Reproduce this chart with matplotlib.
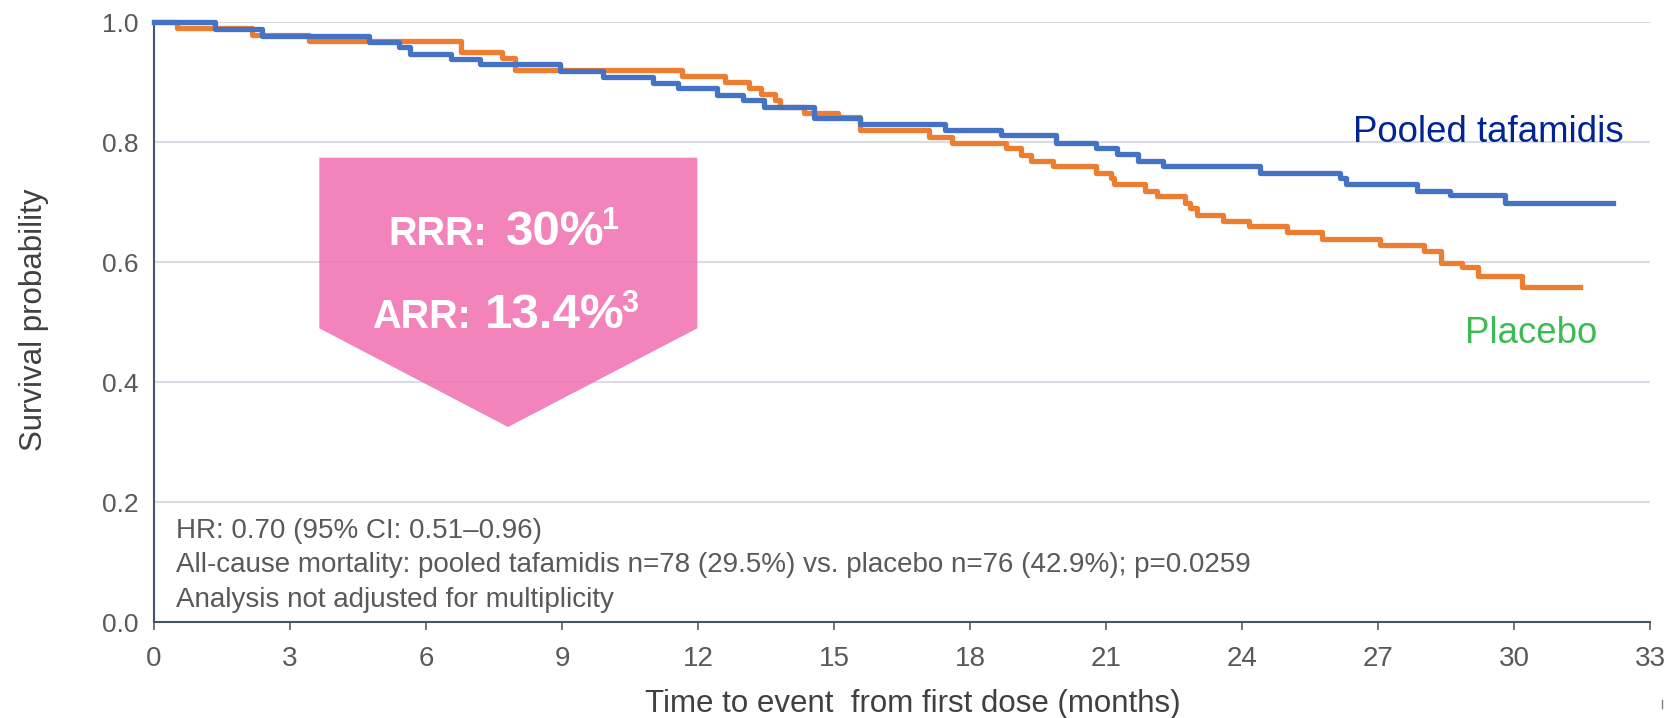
import matplotlib
matplotlib.use("Agg")
import matplotlib.pyplot as plt
from matplotlib.patches import Polygon

plt.rcParams['font.family'] = ['Liberation Sans', 'DejaVu Sans']

# Kaplan-Meier steps (months, survival)
taf_t = [0, 1.34, 2.38, 4.75, 5.40, 5.65, 6.55, 7.19, 8.95, 9.90, 11.0, 11.56,
         12.43, 13.0, 13.46, 14.55, 15.58, 17.44, 18.68, 19.89, 20.77, 21.25,
         21.70, 22.26, 24.40, 26.17, 26.30, 27.86, 28.59, 29.80, 32.19]
taf_s = [1.0, 0.989, 0.977, 0.968, 0.959, 0.948, 0.939, 0.93, 0.919, 0.909,
         0.899, 0.89, 0.879, 0.87, 0.859, 0.84, 0.83, 0.82, 0.812, 0.799, 0.79,
         0.78, 0.769, 0.761, 0.748, 0.74, 0.73, 0.719, 0.712, 0.699, 0.699]
pbo_t = [0, 0.51, 2.16, 3.43, 6.77, 7.67, 7.96, 11.65, 12.6, 13.13, 13.39,
         13.69, 13.8, 14.33, 15.08, 15.57, 17.1, 17.6, 18.8, 19.13, 19.34,
         19.82, 20.77, 21.1, 21.17, 21.87, 22.13, 22.75, 22.85, 23.0, 23.58,
         24.15, 25.0, 25.76, 27.04, 28.02, 28.4, 28.85, 29.2, 30.17, 31.45]
pbo_s = [1.0, 0.99, 0.979, 0.969, 0.95, 0.94, 0.92, 0.91, 0.90, 0.89, 0.88,
         0.87, 0.859, 0.849, 0.842, 0.82, 0.809, 0.798, 0.79, 0.779, 0.769,
         0.761, 0.749, 0.74, 0.73, 0.719, 0.71, 0.699, 0.69, 0.679, 0.669,
         0.66, 0.651, 0.639, 0.629, 0.618, 0.599, 0.592, 0.578, 0.559, 0.559]

x_ticks = [0, 3, 6, 9, 12, 15, 18, 21, 24, 27, 30, 33]
y_ticks = [0.0, 0.2, 0.4, 0.6, 0.8, 1.0]

notes = ["HR: 0.70 (95% CI: 0.51\u20130.96)",
         "All-cause mortality: pooled tafamidis n=78 (29.5%) vs. placebo n=76 (42.9%); p=0.0259",
         "Analysis not adjusted for multiplicity"]

W, H = 1671, 718
def fx(x):
    return x / W
def fy(y):
    return 1 - y / H

fig = plt.figure(figsize=(W / 100, H / 100), dpi=100)
ax = fig.add_axes([fx(154), fy(622.3), 1496 / W, 600 / H])

ax.step(pbo_t, pbo_s, where='post', color='#ed7d31', lw=3.8, clip_on=False, zorder=3)
ax.step(taf_t, taf_s, where='post', color='#4472c4', lw=3.8, clip_on=False, zorder=4)

ax.set_xlim(0, 33)
ax.set_ylim(0, 1.0)
ax.set_xticks(x_ticks)
ax.set_yticks(y_ticks)
ax.set_yticklabels([f"{v:.1f}" for v in y_ticks])
ax.yaxis.grid(True, color='#d9dce6', lw=1.5)
ax.set_axisbelow(True)
for s in ['top', 'right']:
    ax.spines[s].set_visible(False)
for s in ['left', 'bottom']:
    ax.spines[s].set_color('#44546a')
    ax.spines[s].set_linewidth(1.5)
ax.tick_params(axis='x', length=6, width=1.1, color='#44546a', labelsize=20,
               labelcolor='#595959', pad=11)
ax.tick_params(axis='y', length=0, labelsize=19, labelcolor='#595959', pad=11)

fig.text(fx(913), fy(712), "Time to event  from first dose (months)", fontsize=22.5,
         color='#404040', ha='center', va='baseline')
fig.text(fx(34), fy(320), "Survival probability", fontsize=22.5, color='#404040',
         ha='center', va='center', rotation=90)

fig.text(fx(1353), fy(141.7), "Pooled tafamidis", fontsize=26.4, color='#002395',
         ha='left', va='baseline')
fig.text(fx(1465), fy(343.3), "Placebo", fontsize=26.4, color='#3cba54',
         ha='left', va='baseline')

# pink chevron
chev = [(319.3, 157.7), (697.3, 157.7), (697.3, 328.3), (508, 427), (319.3, 328.3)]
fig.patches.append(Polygon([(fx(a), fy(b)) for a, b in chev], closed=True,
                           transform=fig.transFigure, facecolor='#f06eb0',
                           alpha=0.85, edgecolor='none', zorder=5))
bold = dict(color='white', weight='bold', ha='left', va='baseline', zorder=6)
fig.text(fx(388), fy(245), "RRR:", fontsize=28.5, **bold)
big1 = fig.text(fx(506), fy(245), "30%", fontsize=35.5, **bold)
fig.text(fx(371.7), fy(328.3), "ARR:", fontsize=28.5, **bold)
big2 = fig.text(fx(485), fy(328.3), "13.4%", fontsize=35.5, **bold)

# superscripts sit right after the big numbers
fig.canvas.draw()
r = fig.canvas.get_renderer()
for big, sup, base in [(big1, "1", 229), (big2, "3", 312)]:
    x_end = big.get_window_extent(r).x1
    fig.text((x_end - 3) / W, fy(base), sup, fontsize=22, **bold)

for i, line in enumerate(notes):
    fig.text(fx(176), fy(538 + 34.5 * i), line, fontsize=20, color='#595959',
             ha='left', va='baseline')

fig.lines.append(plt.Line2D([fx(1662), fx(1662)], [fy(700), fy(708)],
                            transform=fig.transFigure, color='#7f7f7f', lw=1))

fig.savefig("out.png", dpi=100)
